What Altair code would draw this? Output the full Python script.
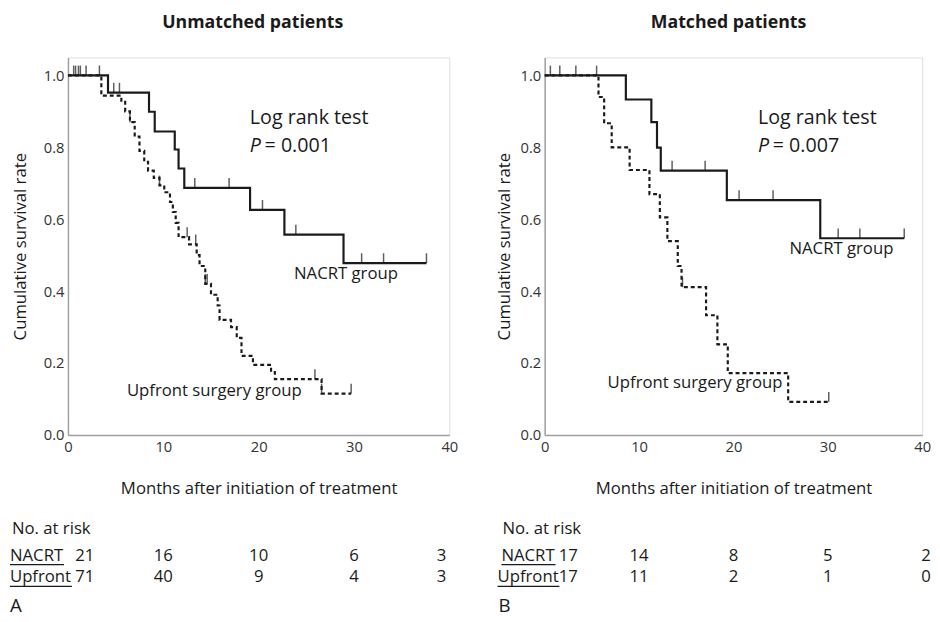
import altair as alt
import pandas as pd

FONT = "Open Sans"
INK = "#1a1a1a"

# ---------------- data: A (unmatched patients) ----------------
a_nacrt_t = [0, 4.2, 8.5, 9.1, 11.2, 11.6, 12.2, 19.1, 22.7, 28.9, 37.6]
a_nacrt_s = [1.0, 0.952, 0.899, 0.844, 0.794, 0.741, 0.687, 0.626, 0.557, 0.478, 0.478]
a_nacrt_cens_t = [0.6, 0.8, 1.1, 1.3, 1.9, 3.3, 4.8, 5.4, 13.3, 16.9, 20.4, 23.9, 30.8, 33.1, 37.6]
a_nacrt_cens_s = [1.0, 1.0, 1.0, 1.0, 1.0, 1.0, 0.952, 0.952, 0.687, 0.687, 0.626, 0.557, 0.478, 0.478, 0.478]

a_up_t = [0, 3.5, 5.6, 6.0, 6.5, 7.0, 7.5, 8.0, 8.4, 9.0, 9.6, 10.1, 10.7, 11.0, 11.3, 11.6,
          12.7, 13.5, 13.8, 14.4, 15.0, 15.7, 15.9, 17.1, 17.7, 18.2, 19.4, 21.3, 21.7, 26.6, 29.7]
a_up_s = [1.0, 0.944, 0.93, 0.90, 0.87, 0.83, 0.79, 0.76, 0.735, 0.715, 0.694, 0.675, 0.648, 0.62, 0.59, 0.55,
          0.53, 0.50, 0.47, 0.42, 0.39, 0.36, 0.32, 0.30, 0.27, 0.22, 0.195, 0.175, 0.155, 0.115, 0.115]
a_up_cens_t = [6.5, 9.6, 12.5, 13.4, 14.4, 14.6, 25.9, 26.6, 29.7]
a_up_cens_s = [0.87, 0.694, 0.55, 0.53, 0.42, 0.42, 0.155, 0.115, 0.115]

a_risk_t = [0, 10, 20, 30, 40]
a_risk_nacrt = [21, 16, 10, 6, 3]
a_risk_up = [71, 40, 9, 4, 3]

# ---------------- data: B (matched patients) ----------------
b_nacrt_t = [0, 8.6, 11.3, 11.9, 12.3, 19.3, 29.2, 38.1]
b_nacrt_s = [1.0, 0.933, 0.87, 0.799, 0.735, 0.653, 0.547, 0.547]
b_nacrt_cens_t = [0.6, 1.6, 3.3, 5.5, 13.5, 17.0, 20.6, 24.2, 31.1, 33.4, 38.1]
b_nacrt_cens_s = [1.0, 1.0, 1.0, 1.0, 0.735, 0.735, 0.653, 0.653, 0.547, 0.547, 0.547]

b_up_t = [0, 5.7, 6.3, 7.1, 9.0, 11.1, 12.2, 13.0, 14.1, 14.5, 17.1, 18.3, 19.4, 25.8, 30.1]
b_up_s = [1.0, 0.94, 0.867, 0.80, 0.737, 0.67, 0.605, 0.539, 0.47, 0.411, 0.333, 0.252, 0.172, 0.092, 0.092]
b_up_cens_t = [14.6, 30.1]
b_up_cens_s = [0.411, 0.092]

b_risk_t = [0, 10, 20, 30, 40]
b_risk_nacrt = [17, 14, 8, 5, 2]
b_risk_up = [17, 11, 2, 1, 0]

x_ticks = [0, 10, 20, 30, 40]
y_ticks = [0.0, 0.2, 0.4, 0.6, 0.8, 1.0]


def text_layer(txt, x, y, size, align="left", weight="normal", style="normal", dx=0):
    return alt.Chart(pd.DataFrame({"label": [txt]})).mark_text(
        align=align, baseline="middle", font=FONT, fontSize=size, fontWeight=weight,
        fontStyle=style, color=INK, dx=dx
    ).encode(x=alt.value(x), y=alt.value(y), text="label:N")


def underline(x1, x2, y):
    return alt.Chart(pd.DataFrame({"d": [0]})).mark_rule(color=INK, strokeWidth=1.2).encode(
        x=alt.value(x1), x2=alt.value(x2), y=alt.value(y)
    )


def panel(title, width, nt, ns, nct, ncs, ut, us, uct, ucs, rt, rn, ru, pval, letter, pos):
    height = 384
    X = alt.X("t:Q", scale=alt.Scale(domain=[0, 40], nice=False, zero=False),
              axis=alt.Axis(values=x_ticks, title="Months after initiation of treatment", grid=False,
                            ticks=False, labelPadding=5, domainColor="#a0a0a0", domainWidth=1.5,
                            labelFontSize=15, labelColor="#333", labelFont=FONT,
                            titleFont=FONT, titleFontSize=17, titleFontWeight="normal",
                            titleColor=INK, titlePadding=27, labelFlush=False))
    Y = alt.Y("s:Q", scale=alt.Scale(domain=[0, 1.05], nice=False),
              axis=alt.Axis(values=y_ticks, format=".1f", title="Cumulative survival rate", grid=False,
                            ticks=False, labelPadding=4, domainColor="#a0a0a0", domainWidth=1.5,
                            labelFontSize=15, labelColor="#333", labelFont=FONT,
                            titleFont=FONT, titleFontSize=17, titleFontWeight="normal",
                            titleColor=INK, titlePadding=pos["ytp"]))

    nacrt = pd.DataFrame({"t": nt, "s": ns})
    up = pd.DataFrame({"t": ut, "s": us})
    nc = pd.DataFrame({"t": nct, "s": ncs})
    uc = pd.DataFrame({"t": uct, "s": ucs})

    l_n = alt.Chart(nacrt).mark_line(interpolate="step-after", color=INK, strokeWidth=2.2).encode(x=X, y=Y)
    l_u = alt.Chart(up).mark_line(interpolate="step-after", color=INK, strokeWidth=2.2,
                                  strokeDash=[4, 3]).encode(x=X, y=Y)
    c_n = alt.Chart(nc).mark_tick(orient="vertical", color=INK, size=10, thickness=1.5,
                                  yOffset=-5).encode(x=X, y=Y)
    c_u = alt.Chart(uc).mark_tick(orient="vertical", color=INK, size=10, thickness=1.5,
                                  yOffset=-5).encode(x=X, y=Y)

    risk = pd.DataFrame({"t": rt, "n_nacrt": rn, "n_up": ru})
    risk_layers = []
    for field, yrow in (("n_nacrt", pos["row1"]), ("n_up", pos["row2"])):
        for cond, dx in (("datum.t == 0", pos["dx0"]),
                         ("datum.t > 0 && datum.t < 40", 0),
                         ("datum.t == 40", pos["dx40"])):
            risk_layers.append(
                alt.Chart(risk).transform_filter(cond).mark_text(
                    font=FONT, fontSize=17, color=INK, align="center", baseline="middle", dx=dx
                ).encode(x=X, y=alt.value(yrow), text=alt.Text(f"{field}:Q"))
            )

    ann = [
        text_layer(title, pos["title_x"], -35, 18, align="center", weight="bold"),
        text_layer("Log rank test", pos["lr_x"], 62, 20),
        text_layer("P", pos["lr_x"], 90, 20, style="italic"),
        text_layer("= " + pval, pos["lr_x"], 90, 20, dx=15),
        text_layer("NACRT group", pos["ng_x"], pos["ng_y"], 17),
        text_layer("Upfront surgery group", pos["ug_x"], pos["ug_y"], 17),
        text_layer("No. at risk", pos["nar_x"], 480, 17),
        text_layer("NACRT", pos["lab1_x"], pos["row1"], 17),
        text_layer("Upfront", pos["lab2_x"], pos["row2"], 17),
        underline(pos["lab1_x"], pos["lab1_x"] + 55, pos["row1"] + 9),
        underline(pos["lab2_x"], pos["lab2_x"] + 63, pos["row2"] + 9),
        text_layer(letter, pos["let_x"], 558, 19),
    ]

    return alt.layer(l_u, l_n, c_u, c_n, *risk_layers, *ann).properties(width=width, height=height)


left = panel("Unmatched patients", 388,
             a_nacrt_t, a_nacrt_s, a_nacrt_cens_t, a_nacrt_cens_s,
             a_up_t, a_up_s, a_up_cens_t, a_up_cens_s,
             a_risk_t, a_risk_nacrt, a_risk_up, "0.001", "A",
             dict(ytp=14, title_x=188, lr_x=185, ng_x=230, ng_y=220, ug_x=60, ug_y=339,
                  nar_x=-57, lab1_x=-59, lab2_x=-59, row1=507, row2=529, let_x=-59,
                  dx0=17, dx40=-8))

right = panel("Matched patients", 384,
              b_nacrt_t, b_nacrt_s, b_nacrt_cens_t, b_nacrt_cens_s,
              b_up_t, b_up_s, b_up_cens_t, b_up_cens_s,
              b_risk_t, b_risk_nacrt, b_risk_up, "0.007", "B",
              dict(ytp=7, title_x=187, lr_x=217, ng_x=249, ng_y=195, ug_x=64, ug_y=331,
                   nar_x=-43, lab1_x=-44, lab2_x=-48, row1=507, row2=529, let_x=-47,
                   dx0=24, dx40=4))

chart = alt.hconcat(left, right, spacing=36).properties(padding=0).configure_view(
    stroke=None
).configure(background="white")

chart.save("out.html", embed_options={"renderer": "svg", "actions": False})
